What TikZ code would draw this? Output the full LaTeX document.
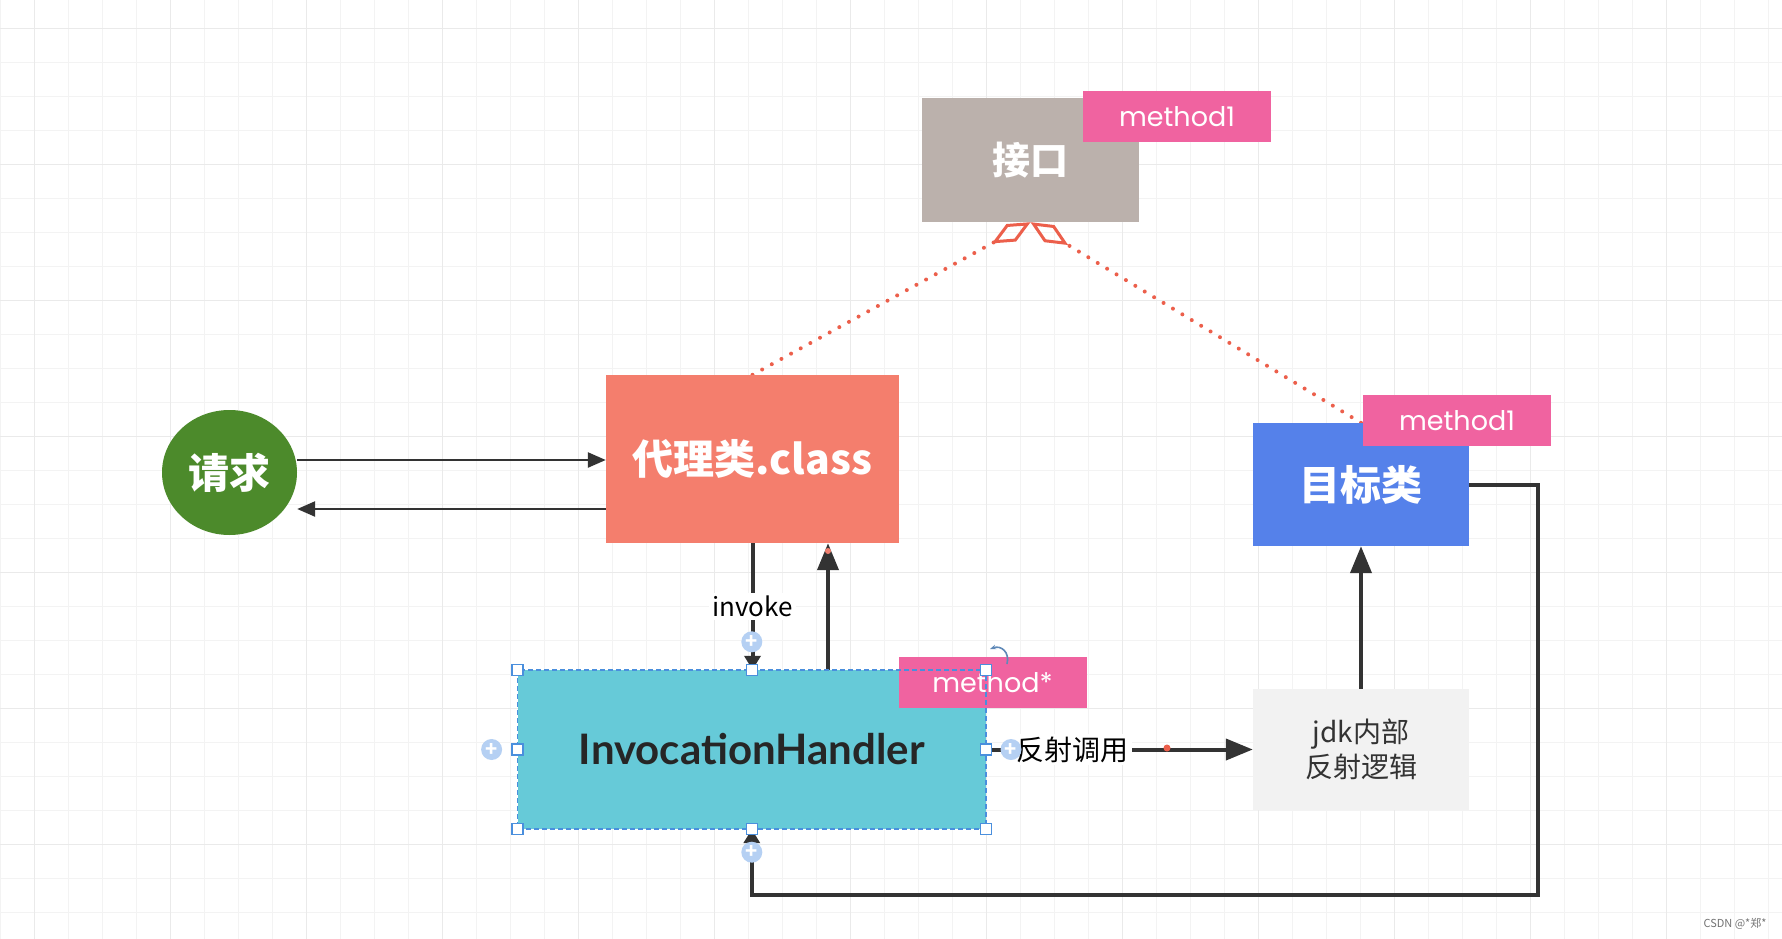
\documentclass[tikz,border=0pt]{standalone}
\usepackage{fontspec}
\setmainfont{Noto Sans CJK SC}
\newfontfamily\popp{Poppins}
\newfontfamily\latof{Lato}
\usetikzlibrary{arrows.meta,shapes.geometric}
\pgfdeclarelayer{gridlayer}
\pgfdeclarelayer{connlayer}
\pgfsetlayers{gridlayer,connlayer,main}
\definecolor{gridminor}{HTML}{F3F3F3}
\definecolor{gridmajor}{HTML}{EAEAEA}
\definecolor{taupe}{HTML}{BBB1AC}
\definecolor{tagpink}{HTML}{F063A0}
\definecolor{salmon}{HTML}{F47E6D}
\definecolor{leaf}{HTML}{4C8A2B}
\definecolor{royal}{HTML}{5581EA}
\definecolor{cyanbox}{HTML}{66CAD8}
\definecolor{selblue}{HTML}{4A8FDD}
\definecolor{plusblue}{HTML}{B5D0F3}
\definecolor{jdkgray}{HTML}{F2F2F2}
\definecolor{ink}{HTML}{333333}
\definecolor{dotred}{HTML}{EC5F4B}
\begin{document}
\begin{tikzpicture}[x=1pt,y=-1pt,
  box/.style={rectangle, inner sep=0pt, draw=none, align=center},
  tag/.style={box, fill=tagpink, minimum width=188pt, minimum height=51pt, text=white, font=\popp\fontsize{27}{30}\selectfont},
  bigtxt/.style={font=\fontsize{41}{48}\selectfont\bfseries, text=white},
  arr/.style={draw=ink, line width=4pt, -{Triangle[length=27pt,width=21pt]}},
  smallarr/.style={draw=ink, line width=4pt, -{Triangle[length=14pt,width=16pt]}},
  thinarr/.style={draw=ink, line width=2.5pt, -{Triangle[length=18pt,width=15pt]}},
  dotline/.style={draw=dotred, line width=4pt, line cap=round, dash pattern=on 0pt off 11pt,
    -{Kite[open,length=44pt,width=20pt,inset=22pt,line width=3pt]}},
  lbl/.style={fill=white, inner sep=3pt, text=black},
  handle/.style={rectangle, draw=selblue, fill=white, line width=1.3pt, minimum size=11pt, inner sep=0pt},
  plus/.style={circle, fill=plusblue, minimum size=21pt, inner sep=0pt, text=white, font=\fontsize{20}{20}\selectfont\bfseries}
]
\useasboundingbox (0,0) rectangle (1782,939);
\begin{pgfonlayer}{gridlayer}
\fill[white] (0,0) rectangle (1782,939);
\foreach \k in {0,...,52} {
  \draw[gridminor, line width=1.3pt] ({0.7+34*\k},0) -- ({0.7+34*\k},939);
}
\foreach \k in {0,...,27} {
  \draw[gridminor, line width=1.3pt] (0,{-5.7+34*\k}) -- (1782,{-5.7+34*\k});
}
\foreach \k in {0,...,13} {
  \draw[gridmajor, line width=1.5pt] ({34.7+136*\k},0) -- ({34.7+136*\k},939);
}
\foreach \k in {0,...,6} {
  \draw[gridmajor, line width=1.5pt] (0,{28.3+136*\k}) -- (1782,{28.3+136*\k});
}
\end{pgfonlayer}

% nodes
\node[box, fill=taupe, minimum width=217pt, minimum height=124pt, bigtxt, font=\fontsize{38}{44}\selectfont\bfseries] (jiekou) at (1030.5,160) {接口};
\node[tag] (tag1) at (1177,116.5) {method1};
\node[box, fill=salmon, minimum width=293pt, minimum height=168pt, bigtxt] (daili) at (752.5,459) {代理类.class};
\node[ellipse, fill=leaf, inner sep=0pt, minimum width=135pt, minimum height=125pt, bigtxt] (qingqiu) at (229.5,472.5) {请求};
\node[box, fill=royal, minimum width=216pt, minimum height=123pt, bigtxt] (mubiao) at (1361,484.5) {目标类};
\node[tag] (tag2) at (1457,420.5) {method1};
\node[box, fill=cyanbox, minimum width=468pt, minimum height=159pt, text={black!85}, font=\latof\fontsize{42}{48}\selectfont\bfseries] (handler) at (751.8,749.5) {InvocationHandler};
\node[tag] (tag3) at (992.5,682.5) {method*};
\node[box, fill=jdkgray, minimum width=216pt, minimum height=121pt, text=ink, font=\fontsize{28}{35}\selectfont] (jdk) at (1361,749.5) {jdk内部\\反射逻辑};
\node[text=black!55, font=\fontsize{11}{12}\selectfont] (wm) at (1735,924) {CSDN @*郑*};

\coordinate (ya) at (0,460);
\coordinate (yb) at (0,509);
\coordinate (ux) at (828,0);
\coordinate (rc) at (1538,895);

% connectors
\begin{pgfonlayer}{connlayer}
\draw[dotline] (daili.north) -- (jiekou.south);
\draw[dotline] (mubiao.north) -- (jiekou.south);
\draw[thinarr] (qingqiu.east |- ya) -- (daili.west |- ya);
\draw[thinarr] (daili.west |- yb) -- (qingqiu.east |- yb);
\draw[smallarr] (daili.south) -- node[lbl, pos=0.5, font=\fontsize{26}{30}\selectfont] {invoke} (daili.south |- handler.north);
\draw[arr] (handler.north -| ux) -- (daili.south -| ux);
\draw[arr] (handler.east) -- node[lbl, pos=0.325, font=\fontsize{28}{32}\selectfont] {反射调用} (jdk.west);
\draw[arr] (jdk.north) -- (mubiao.south);
\draw[smallarr] (mubiao.east) -| (rc) -| (handler.south);
\end{pgfonlayer}

% selection overlay
\draw[selblue, line width=1.6pt, dash pattern=on 5pt off 3pt] (handler.north west) rectangle (handler.south east);
\foreach \p [count=\i] in {north west,north,north east,west,east,south west,south,south east} {
  \node[handle] (hd\i) at (handler.\p) {};
}
\node[plus] (pl1) at ([yshift=28pt]handler.north) {+};
\node[plus] (pl2) at ([xshift=-26pt]handler.west) {+};
\node[plus] (pl3) at ([xshift=25pt]handler.east) {+};
\node[plus] (pl4) at ([yshift=-23pt]handler.south) {+};
\fill[dotred] (1167,748) circle (3.5pt);
\fill[dotred!80] (828,551) circle (3pt);
\draw[selblue!60!gray, line width=1.6pt, -{Stealth[length=6pt]}] (1007,664) .. controls (1010,652) and (1001,645) .. (990,649);
\end{tikzpicture}
\end{document}
